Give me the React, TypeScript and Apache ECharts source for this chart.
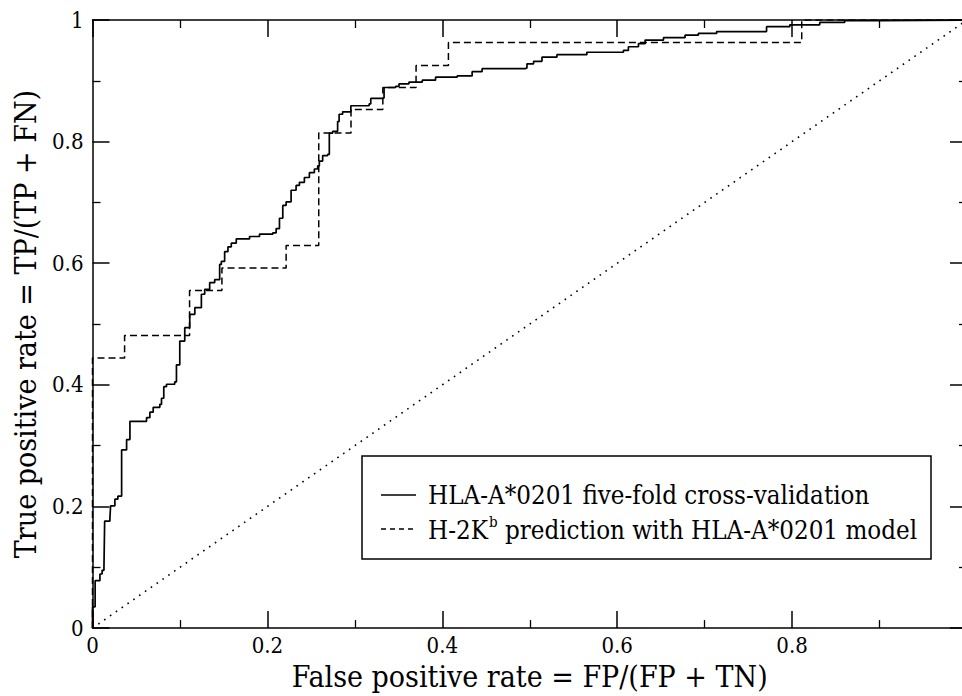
import React, { useEffect, useRef } from "react";
import * as echarts from "echarts";

const xTickLabels = ["0", "0.2", "0.4", "0.6", "0.8"];
const yTickLabels = ["0", "0.2", "0.4", "0.6", "0.8", "1"];

const seriesNames = [
  "HLA-A*0201 five-fold cross-validation",
  "H-2Kb prediction with HLA-A*0201 model",
];

const crossValidation: [number, number][] = [
  [0, 0], [0, 0.035], [0.003, 0.078], [0.0085, 0.089], [0.011, 0.095], [0.0131, 0.1],
  [0.0139, 0.176], [0.0199, 0.181], [0.0207, 0.201], [0.0256, 0.212], [0.029, 0.217],
  [0.0333, 0.293], [0.039, 0.31], [0.0428, 0.34], [0.0618, 0.346], [0.0656, 0.355],
  [0.0694, 0.363], [0.077, 0.368], [0.0789, 0.378], [0.0815, 0.397], [0.0846, 0.401],
  [0.094, 0.405], [0.096, 0.433], [0.0998, 0.472], [0.1055, 0.494], [0.1112, 0.516],
  [0.117, 0.527], [0.1245, 0.549], [0.1283, 0.557], [0.134, 0.568], [0.1397, 0.573],
  [0.1454, 0.598], [0.1473, 0.603], [0.1511, 0.619], [0.1549, 0.627], [0.1587, 0.633],
  [0.1644, 0.64], [0.1796, 0.644], [0.191, 0.648], [0.2062, 0.65], [0.21, 0.657],
  [0.2138, 0.674], [0.2176, 0.695], [0.2214, 0.701], [0.2271, 0.72], [0.2328, 0.728],
  [0.2366, 0.733], [0.2423, 0.741], [0.248, 0.749], [0.2537, 0.755], [0.2575, 0.76],
  [0.2594, 0.768], [0.2632, 0.777], [0.2689, 0.779], [0.2708, 0.814], [0.2746, 0.817],
  [0.2803, 0.833], [0.282, 0.845], [0.286, 0.849], [0.2954, 0.859], [0.3163, 0.862],
  [0.3182, 0.871], [0.3315, 0.872], [0.3334, 0.889], [0.3467, 0.891], [0.3505, 0.895],
  [0.3619, 0.898], [0.3771, 0.901], [0.3923, 0.906], [0.417, 0.908], [0.4341, 0.915],
  [0.4455, 0.92], [0.4949, 0.921], [0.4968, 0.928], [0.5044, 0.932], [0.514, 0.939],
  [0.5311, 0.943], [0.5653, 0.947], [0.6071, 0.95], [0.6128, 0.956], [0.6243, 0.961],
  [0.6319, 0.967], [0.6529, 0.971], [0.6776, 0.975], [0.6928, 0.978], [0.7137, 0.981],
  [0.7708, 0.989], [0.7974, 0.992], [0.8316, 0.996], [0.8601, 0.999], [0.902, 1.0],
  [1.0, 1.0],
];

const h2kbPrediction: [number, number][] = [
  [0, 0], [0, 0.444], [0.0367, 0.481], [0.111, 0.555], [0.148, 0.592], [0.2214, 0.629],
  [0.2587, 0.814], [0.2956, 0.853], [0.332, 0.889], [0.37, 0.925], [0.407, 0.963],
  [0.811, 1.0], [1.0, 1.0],
];

const diagonal: [number, number][] = [
  [0, 0], [1, 1],
];

const FONT = "DejaVu Serif Condensed";

export default function App() {
  const ref = useRef<HTMLDivElement>(null);

  useEffect(() => {
    if (!ref.current) return;
    const chart = echarts.init(ref.current, null, { renderer: "svg" });

    const axisCommon = {
      type: "value" as const,
      min: 0,
      max: 1,
      interval: 0.2,
      splitLine: { show: false },
      axisLine: { show: true, onZero: false, lineStyle: { color: "#000", width: 1.5 } },
      axisTick: { show: true, inside: true, length: 17, lineStyle: { color: "#000", width: 1.5 } },
      minorTick: { show: true, splitNumber: 2, length: 8, lineStyle: { color: "#000", width: 1.3 } },
      minorSplitLine: { show: false },
    };

    const option = {
      animation: false,
      backgroundColor: "#fff",
      textStyle: { fontFamily: FONT, color: "#000" },
      grid: { left: 92.5, right: 0.6, top: 20, bottom: 63, containLabel: false },
      xAxis: [
        {
          ...axisCommon,
          position: "bottom",
          name: "False positive rate = FP/(FP + TN)",
          nameLocation: "middle",
          nameGap: 23,
          nameTextStyle: { fontFamily: FONT, fontSize: 30, color: "#000" },
          axisLabel: {
            show: true,
            margin: 6,
            fontFamily: FONT,
            fontSize: 22,
            color: "#000",
            formatter: (v: number) => {
              const i = Math.round(v / 0.2);
              return xTickLabels[i] ?? "";
            },
          },
        },
        {
          ...axisCommon,
          position: "top",
          axisLabel: { show: false },
        },
      ],
      yAxis: [
        {
          ...axisCommon,
          position: "left",
          name: "True positive rate = TP/(TP + FN)",
          nameLocation: "middle",
          nameGap: 52,
          nameRotate: 90,
          nameTextStyle: { fontFamily: FONT, fontSize: 30, color: "#000" },
          axisLabel: {
            show: true,
            margin: 9,
            fontFamily: FONT,
            fontSize: 22,
            color: "#000",
            formatter: (v: number) => {
              const i = Math.round(v / 0.2);
              return yTickLabels[i] ?? "";
            },
          },
        },
        {
          ...axisCommon,
          position: "right",
          axisLabel: { show: false },
        },
      ],
      series: [
        {
          name: "Random",
          type: "line",
          data: diagonal,
          symbol: "none",
          silent: true,
          lineStyle: { color: "#000", width: 1.6, type: [1.6, 5.5] },
        },
        {
          name: seriesNames[1],
          type: "line",
          step: "end",
          data: h2kbPrediction,
          symbol: "none",
          lineStyle: { color: "#000", width: 1.5, type: [7, 4] },
        },
        {
          name: seriesNames[0],
          type: "line",
          step: "end",
          data: crossValidation,
          symbol: "none",
          lineStyle: { color: "#000", width: 1.7 },
        },
      ],
      graphic: [
        {
          type: "group",
          z: 100,
          children: [
            {
              type: "rect",
              shape: { x: 362, y: 456, width: 569, height: 103 },
              style: { fill: "#fff", stroke: "#000", lineWidth: 1.5 },
            },
            {
              type: "line",
              shape: { x1: 381, y1: 495, x2: 416, y2: 495 },
              style: { stroke: "#000", lineWidth: 1.5 },
            },
            {
              type: "line",
              shape: { x1: 381, y1: 529, x2: 416, y2: 529 },
              style: { stroke: "#000", lineWidth: 1.3, lineDash: [5, 4] },
            },
            {
              type: "text",
              x: 428,
              y: 495,
              style: {
                text: seriesNames[0],
                fontFamily: FONT,
                fontSize: 25.7,
                fill: "#000",
                verticalAlign: "middle",
              },
            },
            {
              type: "text",
              x: 428,
              y: 530,
              style: {
                text: "{n|H-2K}{s|b}{n| prediction with HLA-A*0201 model}",
                verticalAlign: "middle",
                rich: {
                  n: { fontFamily: FONT, fontSize: 25.7, lineHeight: 31, fill: "#000", color: "#000" },
                  s: { fontFamily: FONT, fontSize: 15, lineHeight: 15, verticalAlign: "top", fill: "#000", color: "#000", padding: [0, 0, 0, 1] },
                },
              },
            },
          ],
        },
      ],
    };

    chart.setOption(option as any);
    return () => chart.dispose();
  }, []);

  return (
    <div style={{ position: "absolute", left: 0, top: 0, width: 962, height: 696, overflow: "hidden", background: "#fff" }}>
      <div ref={ref} style={{ width: 970, height: 696 }} />
    </div>
  );
}
